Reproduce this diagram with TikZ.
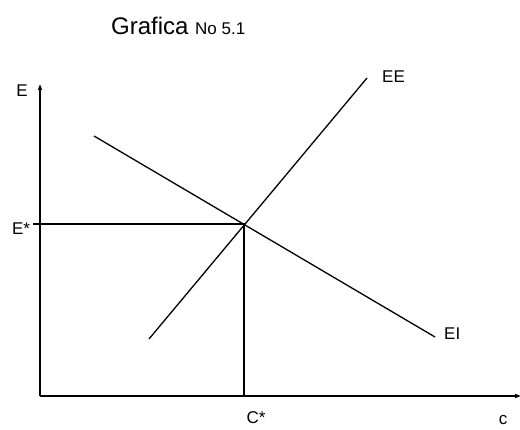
\documentclass[tikz,border=0pt]{standalone}
\usepackage{fontspec}
\setmainfont{Liberation Sans}
\usetikzlibrary{positioning,arrows.meta}
\definecolor{inkblack}{HTML}{000000}
\tikzset{
  axis/.style ={draw=inkblack, line width=1.4pt, -{Triangle[length=6pt, width=4pt]}},
  curve/.style={draw=inkblack, line width=1.3pt},
  guide/.style={draw=inkblack, line width=1.2pt},
  lbl/.style  ={font=\fontsize{17}{19}\selectfont, inner sep=0pt, text=inkblack},
}

\begin{document}
\begin{tikzpicture}[x=1pt, y=-1pt]
\useasboundingbox (0,0) rectangle (520,430);

% title
\node[font=\fontsize{24}{28}\selectfont, inner sep=0pt, anchor=base west] (title) at (111,35)
  {Grafica {\fontsize{17}{19}\selectfont No 5.1}};

% axes
\coordinate (origin) at (40,396);
\coordinate (ytop)   at (40,84);
\coordinate (xend)   at (521,396);
\draw[axis] (origin) -- (ytop);
\draw[axis] (origin) -- (xend);
\node[lbl] (ylab) at (22,91) {E};
\node[lbl, anchor=south] (xlab) at (503,425) {c};

% the two schedules
\coordinate (eelow) at (149,339);
\coordinate (eetop) at (367,78);
\coordinate (eitop) at (94,136);
\coordinate (eilow) at (435,337);
\draw[curve] (eelow) -- (eetop);
\draw[curve] (eitop) -- (eilow);
\node[lbl, anchor=west] (eelab) at (382,77) {EE};
\node[lbl, anchor=west] (eilab) at (444,334) {EI};

% equilibrium
\coordinate (eq)   at (244,224);
\coordinate (eleft) at (33,224);
\coordinate (cfoot) at (244,396);
\draw[guide] (eleft) -- (eq) -- (cfoot);
\node[lbl] (estar) at (21,229) {E*};
\node[lbl] (cstar) at (256,418) {C*};
\end{tikzpicture}
\end{document}
